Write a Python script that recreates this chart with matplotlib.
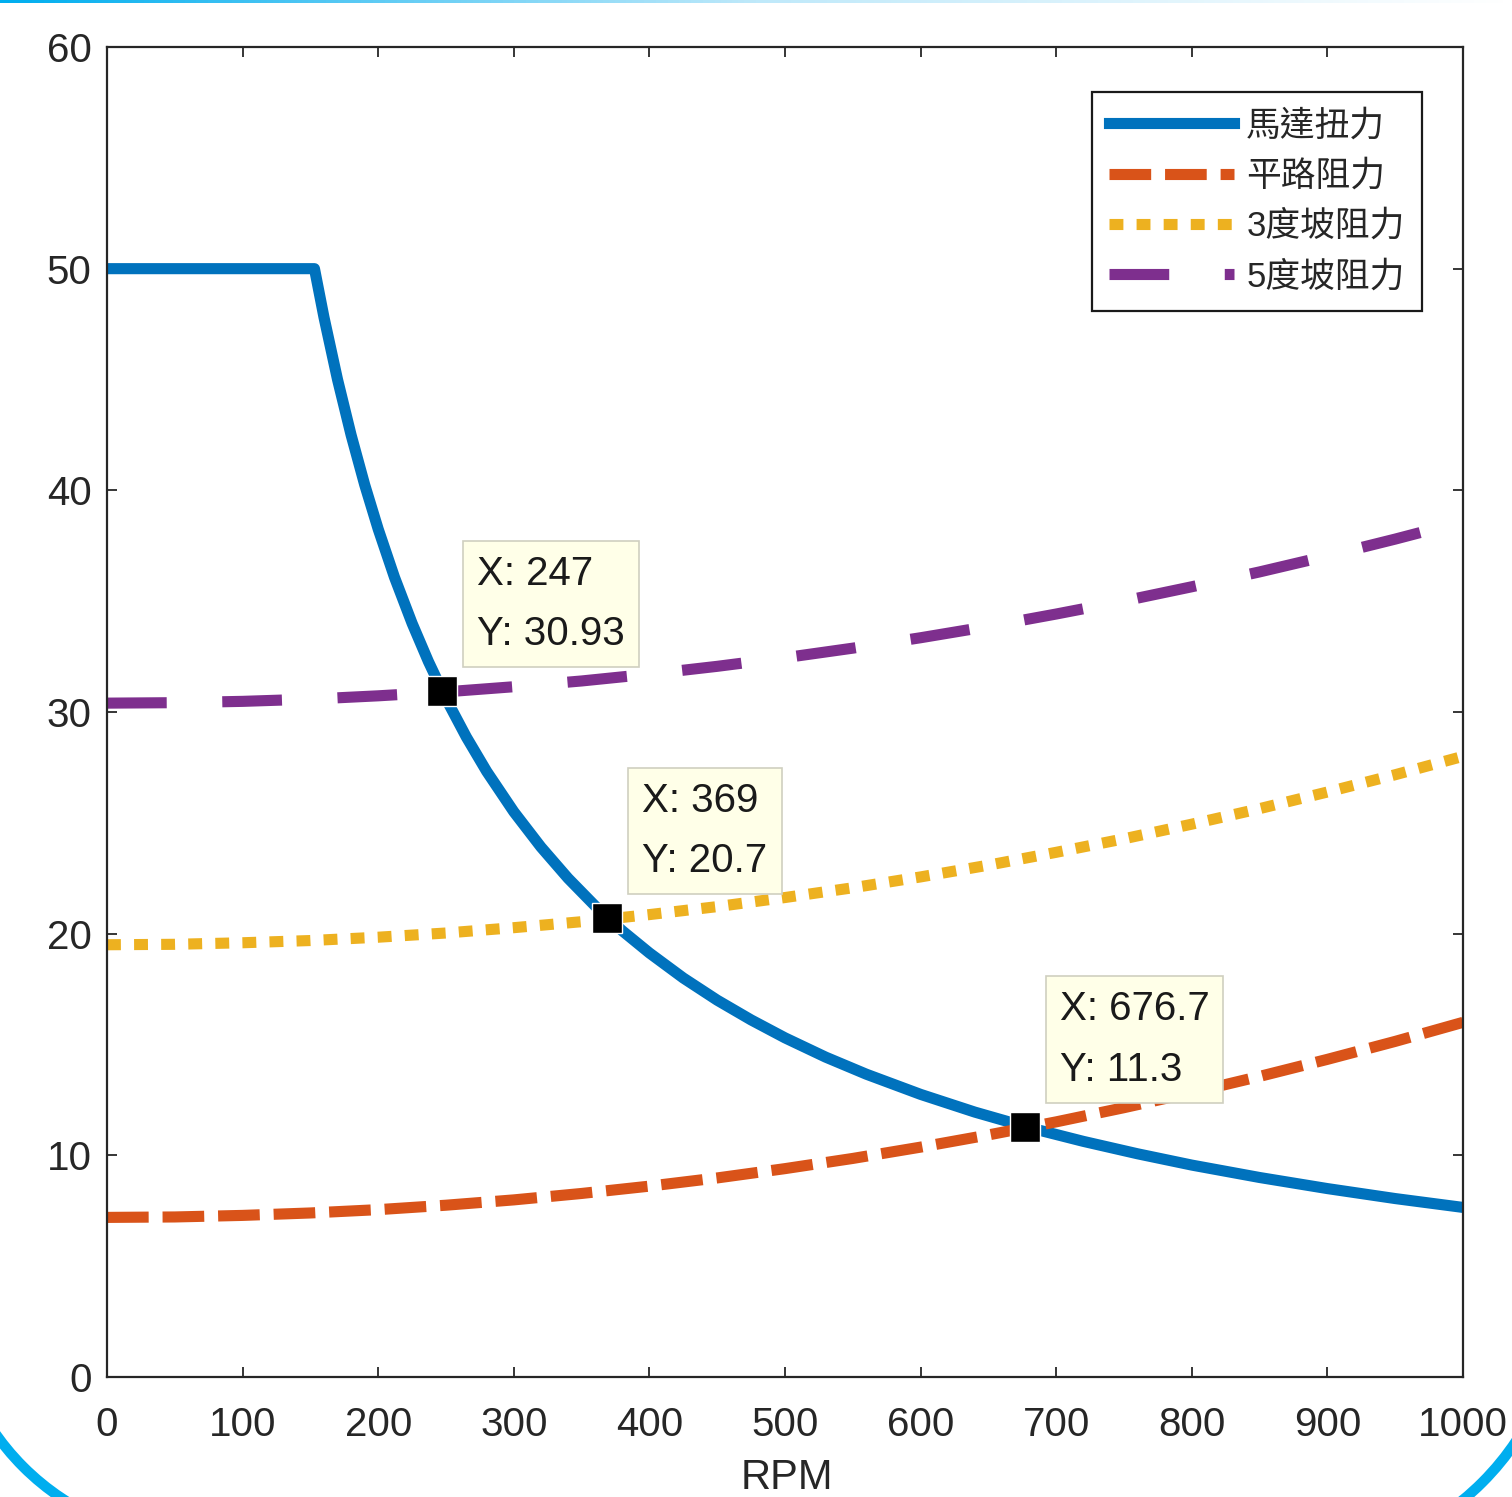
import matplotlib
matplotlib.use("Agg")
import matplotlib.pyplot as plt
import numpy as np
from matplotlib.patches import Arc
from matplotlib.colors import LinearSegmentedColormap

plt.rcParams['font.family'] = ['Liberation Sans', 'Noto Sans CJK TC', 'DejaVu Sans']
plt.rcParams['lines.scale_dashes'] = False

# ---- data ----
motor_rpm = [0, 153, 160, 170, 180, 190, 200, 212, 225, 237, 250, 265, 280, 300, 320,
             340, 360, 380, 400, 425, 450, 475, 500, 530, 560, 600, 640, 680, 720,
             760, 800, 850, 900, 950, 1000]
motor_torque = [50, 50, 47.81, 45.0, 42.5, 40.26, 38.25, 36.08, 34.0, 32.28, 30.6,
                28.87, 27.32, 25.5, 23.91, 22.5, 21.25, 20.13, 19.13, 18.0, 17.0,
                16.11, 15.3, 14.43, 13.66, 12.75, 11.95, 11.25, 10.63, 10.07, 9.56,
                9.0, 8.5, 8.05, 7.65]

res_rpm = [0, 50, 100, 150, 200, 250, 300, 350, 400, 450, 500, 550, 600, 650,
           700, 750, 800, 850, 900, 950, 1000]
flat_res = [7.20, 7.22, 7.29, 7.40, 7.55, 7.75, 7.99, 8.28, 8.61, 8.98, 9.40, 9.86,
            10.37, 10.92, 11.51, 12.15, 12.83, 13.56, 14.33, 15.14, 16.00]
slope3_res = [19.50, 19.52, 19.59, 19.69, 19.84, 20.03, 20.27, 20.54, 20.86, 21.22,
              21.63, 22.07, 22.56, 23.09, 23.67, 24.28, 24.94, 25.64, 26.39, 27.17, 28.00]
slope5_res = [30.40, 30.42, 30.48, 30.58, 30.73, 30.91, 31.14, 31.40, 31.71, 32.06,
              32.45, 32.88, 33.35, 33.86, 34.42, 35.01, 35.65, 36.32, 37.04, 37.80, 38.60]

labels = ['馬達扭力', '平路阻力', '3度坡阻力', '5度坡阻力']

tip_x = [247, 369, 676.7]
tip_y = [30.93, 20.7, 11.3]
tip_xtxt = ['247', '369', '676.7']
tip_ytxt = ['30.93', '20.7', '11.3']

x_ticks = [0, 100, 200, 300, 400, 500, 600, 700, 800, 900, 1000]
y_ticks = [0, 10, 20, 30, 40, 50, 60]

# ---- figure ----
W, H = 1512, 1497
fig = plt.figure(figsize=(W / 100, H / 100), dpi=100)
ax = fig.add_axes([107 / W, 1 - 1377 / H, (1463 - 107) / W, (1377 - 47) / H])

lw = 8
ax.plot(motor_rpm, motor_torque, color='#0072BD', lw=lw, solid_joinstyle='round',
        label=labels[0])
ax.plot(res_rpm, flat_res, color='#D95319', lw=lw, linestyle=(0, (30, 10)),
        dash_capstyle='butt', label=labels[1])
ax.plot(res_rpm, slope3_res, color='#EDB120', lw=lw, linestyle=(0, (10, 9.5)),
        dash_capstyle='butt', label=labels[2])
ax.plot(res_rpm, slope5_res, color='#7E2F8E', lw=lw, linestyle=(0, (43, 40)),
        dash_capstyle='butt', label=labels[3])

ax.set_xlim(0, 1000)
ax.set_ylim(0, 60)
ax.set_xticks(x_ticks)
ax.set_yticks(y_ticks)
ax.tick_params(axis='both', direction='in', length=7, width=1.3, colors='#262626',
               top=True, right=True)
ax.tick_params(axis='x', labelsize=29, pad=21)
ax.tick_params(axis='y', labelsize=29, pad=11)
for s in ax.spines.values():
    s.set_linewidth(1.6)
    s.set_color('#262626')

# data tips
for x, y, xs, ys in zip(tip_x, tip_y, tip_xtxt, tip_ytxt):
    ax.plot([x], [y], marker='s', markersize=21, color='black',
            markeredgecolor='white', markeredgewidth=1, zorder=6)
    ax.annotate(f'X: {xs}\nY: {ys}', xy=(x, y), xytext=(35, 38),
                textcoords='offset pixels', ha='left', va='bottom', fontsize=29,
                linespacing=1.75, color='#1a1a1a', zorder=7,
                bbox=dict(boxstyle='square,pad=0.35', facecolor='#FFFFE8',
                          edgecolor='#CFCFC0', linewidth=1.2))

leg = ax.legend(loc='upper right', bbox_to_anchor=(1422 / W, 1 - 92 / H),
                bbox_transform=fig.transFigure, borderaxespad=0, fontsize=25,
                handlelength=3.6, handletextpad=0.35, labelspacing=0.5,
                borderpad=0.5, fancybox=False, framealpha=1, edgecolor='#1a1a1a')
leg.get_frame().set_linewidth(1.6)
for t in leg.get_texts():
    t.set_color('#262626')

fig.text(787 / W, 1 - 1478 / H, 'RPM', ha='center', va='center', fontsize=30,
         color='#262626')

# ---- decorative slide frame ----
ov = fig.add_axes([0, 0, 1, 1], zorder=-1)
ov.set_xlim(0, W)
ov.set_ylim(H, 0)
ov.axis('off')
ov.add_patch(Arc((200, 1290), 500, 500, theta1=90, theta2=180, lw=7.5,
                 edgecolor='#00AEEF'))
ov.add_patch(Arc((1290, 1290), 544, 544, theta1=0, theta2=90, lw=7.5,
                 edgecolor='#00AEEF'))
grad = np.linspace(0, 1, 256).reshape(1, -1)
cm = LinearSegmentedColormap.from_list('g', ['#00AEEF', '#BFE9FA', '#FFFFFF'])
ov.imshow(grad, cmap=cm, extent=(0, W, 3, 0), aspect='auto')
ov.set_xlim(0, W)
ov.set_ylim(H, 0)

fig.savefig('out.png', dpi=100)
